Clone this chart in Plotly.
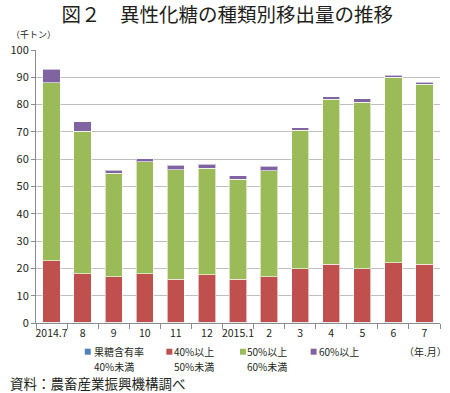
import plotly.graph_objects as go

categories = ["2014.7", "8", "9", "10", "11", "12", "2015.1", "2", "3", "4", "5", "6", "7"]
under40 = [0.3, 0.3, 0.3, 0.3, 0.3, 0.3, 0.3, 0.3, 0.3, 0.3, 0.3, 0.3, 0.3]
top_40_50 = [22.8, 18.0, 16.9, 18.0, 16.0, 17.6, 16.0, 16.9, 19.8, 21.6, 19.8, 22.1, 21.6]
top_50_60 = [88.0, 70.2, 54.9, 59.0, 56.2, 56.7, 52.6, 55.8, 70.6, 82.0, 80.9, 90.0, 87.4]
top_60 = [92.9, 73.8, 56.0, 60.2, 57.7, 58.2, 54.0, 57.5, 71.5, 82.8, 82.1, 90.8, 88.2]

s40 = [round(a - b, 2) for a, b in zip(top_40_50, under40)]
s50 = [round(a - b, 2) for a, b in zip(top_50_60, top_40_50)]
s60 = [round(a - b, 2) for a, b in zip(top_60, top_50_60)]

series_names = [["果糖含有率", "40%未満"], ["40%以上", "50%未満"], ["50%以上", "60%未満"], ["60%以上"]]
series_vals = [under40, s40, s50, s60]
colors = ["#4F81BD", "#C0504D", "#9BBB59", "#8064A2"]

W, H = 450, 393
ML, MR, MT, MB = 34, 10, 50, 70
PW, PH = W - ML - MR, H - MT - MB


def px(x):
    return (x - ML) / PW


def py(y):
    return (H - MB - y) / PH


font = "Noto Sans CJK JP"
ink = "#231f20"
fig = go.Figure()
for names, vals, col in zip(series_names, series_vals, colors):
    fig.add_trace(go.Bar(x=categories, y=vals, name="".join(names), marker_color=col,
                         marker_line_color="rgba(255,255,255,0.6)", marker_line_width=1,
                         showlegend=False))

fig.update_layout(
    barmode="stack", bargap=0.445,
    width=W, height=H,
    margin=dict(l=ML, r=MR, t=MT, b=MB),
    plot_bgcolor="white", paper_bgcolor="white",
    font=dict(family=font, size=11, color=ink),
    title=dict(text="図２　異性化糖の種類別移出量の推移", x=0.505, xanchor="center",
               y=1 - 15 / H, yanchor="middle", font=dict(size=19.5, color=ink, family=font)),
)
fig.update_xaxes(type="category", showline=True, linecolor="#8c8c8c", linewidth=1,
                 ticks="outside", tickson="boundaries", ticklen=5, tickcolor="#8c8c8c",
                 tickangle=0, tickfont=dict(size=10.5, family=font, color=ink))
fig.update_yaxes(range=[0, 100], dtick=10, showgrid=True, gridcolor="#bfbfbf", gridwidth=1,
                 showline=True, linecolor="#8c8c8c", ticks="outside", ticklen=4,
                 tickcolor="#8c8c8c", tickfont=dict(size=11, family=font, color=ink), zeroline=False)

# manual legend
sq_x = [83, 165, 239, 310]
txt_x = [91, 172, 245, 317]
row1, row2 = 351.7, 366.5
for i, (names, col) in enumerate(zip(series_names, colors)):
    fig.add_shape(type="rect", xref="paper", yref="paper",
                  x0=px(sq_x[i]), x1=px(sq_x[i] + 6), y0=py(row1 + 3), y1=py(row1 - 3),
                  fillcolor=col, line_width=0)
    for j, line in enumerate(names):
        fig.add_annotation(text=line, xref="paper", yref="paper", x=px(txt_x[i] - 1),
                           y=py(row1 if j == 0 else row2), xanchor="left", yanchor="middle",
                           showarrow=False, font=dict(size=10, family=font, color=ink))

fig.add_annotation(text="（千トン）", xref="paper", yref="paper", x=px(7), y=py(35),
                   xanchor="left", yanchor="middle", showarrow=False, font=dict(size=9, family=font, color=ink))
fig.add_annotation(text="（年.月）", xref="paper", yref="paper", x=px(449), y=py(351.7),
                   xanchor="right", yanchor="middle", showarrow=False, font=dict(size=10, family=font, color=ink))
fig.add_annotation(text="資料：農畜産業振興機構調べ", xref="paper", yref="paper", x=px(6), y=py(383),
                   xanchor="left", yanchor="middle", showarrow=False, font=dict(size=13.5, family=font, color=ink))

fig.write_html("out.html", config={"displayModeBar": False},
               post_script="document.body.style.margin='0';")
